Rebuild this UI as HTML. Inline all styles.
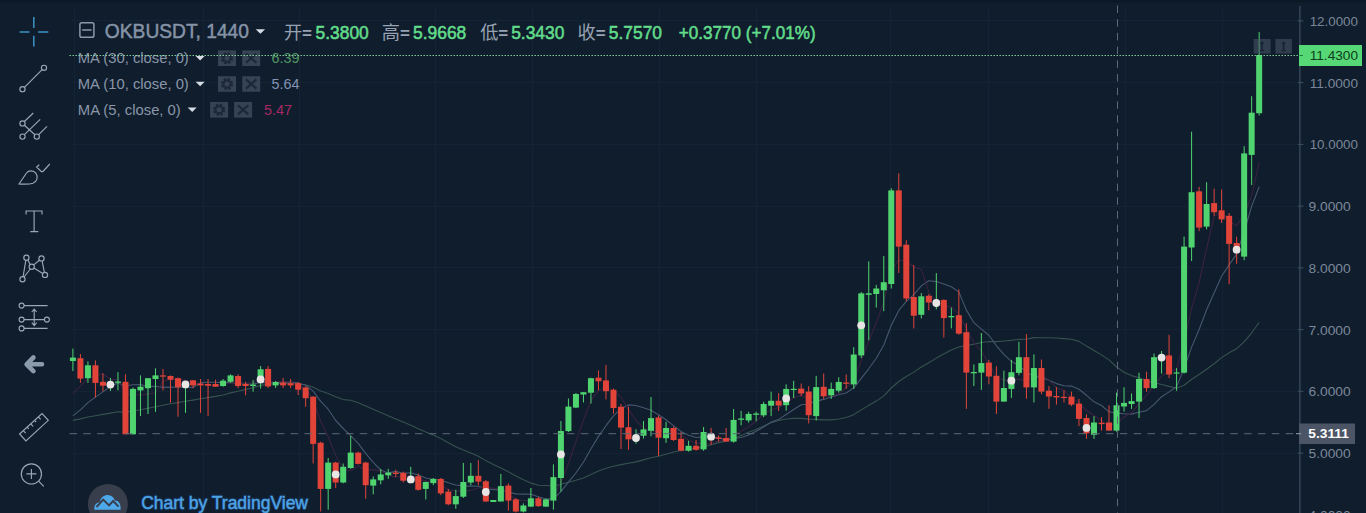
<!DOCTYPE html><html><head><meta charset="utf-8"><title>OKBUSDT</title>
<style>html,body{margin:0;padding:0;background:#0f1d2d}body{width:1366px;height:513px;overflow:hidden;position:relative;font-family:"Liberation Sans",sans-serif}svg{position:absolute;left:0;top:0;display:block}text{font-family:"Liberation Sans",sans-serif}</style></head><body>
<svg width="1366" height="513" viewBox="0 0 1366 513">
<rect x="0" y="0" width="1366" height="513" fill="#0f1d2d"/>
<rect x="0" y="0" width="1366" height="2.5" fill="#0c1825"/>
<g stroke="#152435" stroke-width="1" shape-rendering="crispEdges">
<line x1="74.0" y1="7" x2="74.0" y2="513"/>
<line x1="203.0" y1="7" x2="203.0" y2="513"/>
<line x1="299.0" y1="7" x2="299.0" y2="513"/>
<line x1="435.0" y1="7" x2="435.0" y2="513"/>
<line x1="532.4" y1="7" x2="532.4" y2="513"/>
<line x1="659.8" y1="7" x2="659.8" y2="513"/>
<line x1="756.0" y1="7" x2="756.0" y2="513"/>
<line x1="890.5" y1="7" x2="890.5" y2="513"/>
<line x1="988.0" y1="7" x2="988.0" y2="513"/>
<line x1="1125.6" y1="7" x2="1125.6" y2="513"/>
<line x1="1222.3" y1="7" x2="1222.3" y2="513"/>
<line x1="72" y1="20.9" x2="1300" y2="20.9"/>
<line x1="72" y1="82.6" x2="1300" y2="82.6"/>
<line x1="72" y1="144.4" x2="1300" y2="144.4"/>
<line x1="72" y1="206.1" x2="1300" y2="206.1"/>
<line x1="72" y1="267.9" x2="1300" y2="267.9"/>
<line x1="72" y1="329.6" x2="1300" y2="329.6"/>
<line x1="72" y1="391.4" x2="1300" y2="391.4"/>
<line x1="72" y1="453.1" x2="1300" y2="453.1"/>
</g>
<polyline points="72.9,420.4 80.4,418.9 87.9,417.0 95.4,415.7 102.9,414.4 110.4,413.1 117.9,411.8 125.5,412.1 133.0,411.0 140.5,409.8 148.0,408.3 155.5,406.8 163.0,405.2 170.5,403.8 178.0,402.6 185.5,401.3 193.0,400.1 200.5,398.8 208.0,397.6 215.6,396.4 223.1,395.0 230.6,392.9 238.1,391.2 245.6,389.4 253.1,387.7 260.6,385.4 268.1,384.4 275.6,383.6 283.1,383.1 290.6,383.0 298.1,384.1 305.6,384.7 313.2,387.3 320.7,390.9 328.2,393.4 335.7,396.7 343.2,399.6 350.7,400.2 358.2,402.7 365.7,406.0 373.2,409.3 380.7,412.6 388.2,415.8 395.7,419.0 403.3,422.1 410.8,425.3 418.3,428.7 425.8,432.0 433.3,435.1 440.8,438.6 448.3,442.7 455.8,446.8 463.3,450.0 470.8,453.0 478.3,456.2 485.8,460.6 493.3,464.4 500.9,467.9 508.4,471.7 515.9,475.9 523.4,479.8 530.9,483.1 538.4,485.2 545.9,485.5 553.4,486.0 560.9,484.3 568.4,482.3 575.9,480.3 583.4,477.9 591.0,474.4 598.5,471.1 606.0,468.3 613.5,466.2 621.0,464.6 628.5,463.2 636.0,461.9 643.5,459.9 651.0,457.7 658.5,456.3 666.0,454.2 673.5,452.0 681.0,450.5 688.6,449.3 696.1,448.4 703.6,446.8 711.1,444.7 718.6,442.6 726.1,441.1 733.6,438.5 741.1,435.4 748.6,432.3 756.1,429.5 763.6,426.1 771.1,422.8 778.7,420.4 786.2,419.0 793.7,418.4 801.2,418.4 808.7,419.1 816.2,419.4 823.7,419.9 831.2,419.9 838.7,419.0 846.2,417.5 853.7,414.7 861.2,409.9 868.7,405.4 876.3,401.1 883.8,395.9 891.3,388.0 898.8,381.5 906.3,376.5 913.8,372.1 921.3,367.0 928.8,362.7 936.3,358.1 943.8,354.1 951.3,349.9 958.8,347.1 966.4,345.5 973.9,344.1 981.4,342.5 988.9,341.5 996.4,341.6 1003.9,341.0 1011.4,340.4 1018.9,339.4 1026.4,339.2 1033.9,337.6 1041.4,337.7 1048.9,337.8 1056.4,338.0 1064.0,338.6 1071.5,339.3 1079.0,341.4 1086.5,346.1 1094.0,350.4 1101.5,354.9 1109.0,359.9 1116.5,367.0 1124.0,372.2 1131.5,375.6 1139.0,377.8 1146.5,380.8 1154.1,382.6 1161.6,384.5 1169.1,386.4 1176.6,388.2 1184.1,385.3 1191.6,379.3 1199.1,374.5 1206.6,369.2 1214.1,363.7 1221.6,357.6 1229.1,352.8 1236.6,348.7 1244.1,341.9 1251.7,332.8 1259.2,322.3" fill="none" stroke="#36524f" stroke-width="1.1" stroke-opacity="1" stroke-linejoin="round"/>
<polyline points="72.9,415.9 80.4,409.9 87.9,402.6 95.4,397.1 102.9,391.9 110.4,386.5 117.9,383.1 125.5,385.7 133.0,384.8 140.5,384.5 148.0,386.6 155.5,386.2 163.0,387.4 170.5,387.1 178.0,387.2 185.5,387.1 193.0,387.5 200.5,382.6 208.0,382.3 215.6,382.3 223.1,382.6 230.6,382.6 238.1,383.5 245.6,384.1 253.1,383.9 260.6,382.5 268.1,382.6 275.6,382.3 283.1,382.2 290.6,382.1 298.1,383.0 305.6,385.3 313.2,391.1 320.7,401.4 328.2,409.2 335.7,420.5 343.2,428.5 350.7,435.6 358.2,443.4 365.7,453.4 373.2,462.4 380.7,470.0 388.2,472.9 395.7,471.4 403.3,473.2 410.8,472.8 418.3,475.1 425.8,478.0 433.3,479.5 440.8,480.3 448.3,482.8 455.8,485.0 463.3,485.9 470.8,486.1 478.3,486.2 485.8,488.5 493.3,489.6 500.9,490.0 508.4,492.1 515.9,493.9 523.4,494.1 530.9,494.3 538.4,496.7 545.9,499.1 553.4,498.6 560.9,491.6 568.4,482.2 575.9,473.0 583.4,462.2 591.0,448.8 598.5,436.4 606.0,425.7 613.5,415.9 621.0,408.7 628.5,404.9 636.0,405.5 643.5,407.8 651.0,410.2 658.5,414.7 666.0,419.7 673.5,425.6 681.0,431.5 688.6,435.3 696.1,437.5 703.6,436.8 711.1,436.9 718.6,437.9 726.1,440.2 733.6,438.5 741.1,437.5 748.6,434.9 756.1,431.2 763.6,427.0 771.1,422.1 778.7,419.4 786.2,414.5 793.7,409.5 801.2,404.7 808.7,404.3 816.2,401.1 823.7,399.4 831.2,396.9 838.7,394.7 846.2,393.0 853.7,387.9 861.2,378.3 868.7,368.8 876.3,358.3 883.8,345.0 891.3,325.3 898.8,310.4 906.3,301.3 913.8,294.7 921.3,285.9 928.8,280.7 936.3,281.6 943.8,284.0 951.3,286.8 958.8,291.9 966.4,310.1 973.9,322.7 981.4,329.1 988.9,335.2 996.4,345.8 1003.9,354.3 1011.4,361.4 1018.9,365.3 1026.4,372.4 1033.9,375.9 1041.4,377.8 1048.9,380.2 1056.4,383.6 1064.0,385.8 1071.5,386.1 1079.0,389.2 1086.5,395.3 1094.0,401.8 1101.5,405.5 1109.0,411.8 1116.5,413.1 1124.0,413.8 1131.5,414.1 1139.0,412.2 1146.5,410.6 1154.1,404.4 1161.6,396.7 1169.1,391.9 1176.6,386.8 1184.1,368.4 1191.6,347.1 1199.1,329.5 1206.6,309.8 1214.1,293.1 1221.6,276.3 1229.1,264.9 1236.6,254.1 1244.1,232.0 1251.7,206.0 1259.2,186.8" fill="none" stroke="#46576f" stroke-width="1.1" stroke-opacity="1" stroke-linejoin="round"/>
<polyline points="72.9,393.7 80.4,386.4 87.9,377.9 95.4,374.9 102.9,374.0 110.4,379.2 117.9,379.8 125.5,393.6 133.0,394.8 140.5,395.0 148.0,393.9 155.5,392.7 163.0,381.2 170.5,379.3 178.0,379.4 185.5,380.4 193.0,382.4 200.5,384.1 208.0,385.3 215.6,385.2 223.1,384.8 230.6,382.8 238.1,382.9 245.6,383.0 253.1,382.5 260.6,380.3 268.1,382.5 275.6,381.7 283.1,381.5 290.6,381.7 298.1,385.8 305.6,388.1 313.2,400.5 320.7,421.2 328.2,436.7 335.7,455.2 343.2,468.9 350.7,470.7 358.2,465.7 365.7,470.2 373.2,469.6 380.7,471.1 388.2,475.1 395.7,477.1 403.3,476.2 410.8,475.9 418.3,479.0 425.8,480.9 433.3,481.9 440.8,484.4 448.3,489.7 455.8,490.9 463.3,490.9 470.8,490.3 478.3,488.0 485.8,487.4 493.3,488.2 500.9,489.0 508.4,494.0 515.9,499.9 523.4,500.7 530.9,500.4 538.4,504.4 545.9,504.2 553.4,497.3 560.9,482.4 568.4,464.0 575.9,441.6 583.4,420.2 591.0,400.4 598.5,390.5 606.0,387.4 613.5,390.2 621.0,397.3 628.5,409.5 636.0,420.5 643.5,428.2 651.0,430.2 658.5,432.2 666.0,429.9 673.5,430.6 681.0,434.9 688.6,440.4 696.1,442.9 703.6,443.7 711.1,443.3 718.6,440.9 726.1,440.0 733.6,434.1 741.1,431.4 748.6,426.5 756.1,421.5 763.6,414.0 771.1,410.1 778.7,407.5 786.2,402.5 793.7,397.6 801.2,395.5 808.7,398.4 816.2,394.7 823.7,396.2 831.2,396.2 838.7,393.9 846.2,387.6 853.7,381.1 861.2,360.5 868.7,341.4 876.3,322.7 883.8,302.4 891.3,269.6 898.8,260.2 906.3,261.2 913.8,266.7 921.3,269.5 928.8,291.9 936.3,302.9 943.8,306.8 951.3,306.9 958.8,314.4 966.4,328.4 973.9,342.5 981.4,351.5 988.9,363.6 996.4,377.2 1003.9,380.2 1011.4,380.3 1018.9,379.1 1026.4,381.3 1033.9,374.6 1041.4,375.3 1048.9,380.1 1056.4,388.2 1064.0,390.3 1071.5,397.6 1079.0,403.1 1086.5,410.5 1094.0,415.5 1101.5,420.7 1109.0,425.9 1116.5,423.2 1124.0,417.1 1131.5,412.8 1139.0,403.8 1146.5,395.3 1154.1,385.7 1161.6,376.4 1169.1,371.1 1176.6,369.7 1184.1,341.4 1191.6,308.4 1199.1,282.7 1206.6,248.6 1214.1,216.5 1221.6,211.1 1229.1,221.4 1236.6,225.5 1244.1,215.4 1251.7,195.5 1259.2,162.6" fill="none" stroke="#3a2340" stroke-width="1.1" stroke-opacity="1" stroke-linejoin="round"/>
<rect x="72.40" y="348.6" width="1" height="22.4" fill="#4fd470"/>
<rect x="69.90" y="357.6" width="6.0" height="3.4" fill="#4fd470"/>
<rect x="79.91" y="354.0" width="1" height="28.9" fill="#e2443a"/>
<rect x="77.41" y="358.2" width="6.0" height="20.4" fill="#e2443a"/>
<rect x="87.42" y="361.4" width="1" height="21.5" fill="#4fd470"/>
<rect x="84.92" y="365.3" width="6.0" height="12.9" fill="#4fd470"/>
<rect x="94.92" y="360.4" width="1" height="37.0" fill="#e2443a"/>
<rect x="92.42" y="365.3" width="6.0" height="17.6" fill="#e2443a"/>
<rect x="102.43" y="373.2" width="1" height="18.2" fill="#e2443a"/>
<rect x="99.93" y="381.8" width="6.0" height="3.9" fill="#e2443a"/>
<rect x="109.94" y="378.0" width="1" height="13.0" fill="#4fd470"/>
<rect x="107.44" y="383.5" width="6.0" height="2.0" fill="#4fd470"/>
<rect x="117.45" y="372.2" width="1" height="18.2" fill="#4fd470"/>
<rect x="114.95" y="381.5" width="6.0" height="1.3" fill="#4fd470"/>
<rect x="124.96" y="374.3" width="1" height="60.0" fill="#e2443a"/>
<rect x="122.46" y="381.8" width="6.0" height="52.5" fill="#e2443a"/>
<rect x="132.46" y="387.5" width="1" height="46.8" fill="#4fd470"/>
<rect x="129.96" y="388.9" width="6.0" height="45.4" fill="#4fd470"/>
<rect x="139.97" y="375.4" width="1" height="40.7" fill="#4fd470"/>
<rect x="137.47" y="386.7" width="6.0" height="3.7" fill="#4fd470"/>
<rect x="147.48" y="378.2" width="1" height="35.8" fill="#4fd470"/>
<rect x="144.98" y="378.2" width="6.0" height="10.0" fill="#4fd470"/>
<rect x="154.99" y="368.3" width="1" height="43.5" fill="#4fd470"/>
<rect x="152.49" y="375.4" width="6.0" height="3.6" fill="#4fd470"/>
<rect x="162.50" y="369.0" width="1" height="21.4" fill="#e2443a"/>
<rect x="160.00" y="375.4" width="6.0" height="1.2" fill="#e2443a"/>
<rect x="170.00" y="375.4" width="1" height="27.2" fill="#e2443a"/>
<rect x="167.50" y="376.0" width="6.0" height="3.7" fill="#e2443a"/>
<rect x="177.51" y="377.5" width="1" height="39.2" fill="#e2443a"/>
<rect x="175.01" y="378.2" width="6.0" height="9.0" fill="#e2443a"/>
<rect x="185.02" y="382.9" width="1" height="30.0" fill="#4fd470"/>
<rect x="182.52" y="383.0" width="6.0" height="2.0" fill="#4fd470"/>
<rect x="192.53" y="380.0" width="1" height="8.2" fill="#e2443a"/>
<rect x="190.03" y="380.3" width="6.0" height="5.1" fill="#e2443a"/>
<rect x="200.04" y="379.0" width="1" height="33.9" fill="#e2443a"/>
<rect x="197.54" y="383.5" width="6.0" height="1.9" fill="#e2443a"/>
<rect x="207.54" y="379.0" width="1" height="37.1" fill="#e2443a"/>
<rect x="205.04" y="384.0" width="6.0" height="1.7" fill="#e2443a"/>
<rect x="215.05" y="379.7" width="1" height="7.0" fill="#e2443a"/>
<rect x="212.55" y="384.0" width="6.0" height="2.7" fill="#e2443a"/>
<rect x="222.56" y="379.0" width="1" height="7.7" fill="#4fd470"/>
<rect x="220.06" y="380.7" width="6.0" height="5.3" fill="#4fd470"/>
<rect x="230.07" y="374.3" width="1" height="8.6" fill="#4fd470"/>
<rect x="227.57" y="375.4" width="6.0" height="6.4" fill="#4fd470"/>
<rect x="237.58" y="374.3" width="1" height="13.9" fill="#e2443a"/>
<rect x="235.08" y="376.0" width="6.0" height="10.0" fill="#e2443a"/>
<rect x="245.08" y="381.8" width="1" height="13.5" fill="#e2443a"/>
<rect x="242.58" y="384.0" width="6.0" height="2.0" fill="#e2443a"/>
<rect x="252.59" y="380.0" width="1" height="11.6" fill="#4fd470"/>
<rect x="250.09" y="384.6" width="6.0" height="1.4" fill="#4fd470"/>
<rect x="260.10" y="366.0" width="1" height="22.6" fill="#4fd470"/>
<rect x="257.60" y="369.3" width="6.0" height="10.7" fill="#4fd470"/>
<rect x="267.61" y="366.0" width="1" height="22.0" fill="#e2443a"/>
<rect x="265.11" y="368.9" width="6.0" height="17.5" fill="#e2443a"/>
<rect x="275.12" y="381.0" width="1" height="7.0" fill="#4fd470"/>
<rect x="272.62" y="382.0" width="6.0" height="3.4" fill="#4fd470"/>
<rect x="282.62" y="377.9" width="1" height="10.1" fill="#e2443a"/>
<rect x="280.12" y="382.6" width="6.0" height="2.8" fill="#e2443a"/>
<rect x="290.13" y="379.0" width="1" height="9.0" fill="#e2443a"/>
<rect x="287.63" y="383.2" width="6.0" height="2.2" fill="#e2443a"/>
<rect x="297.64" y="382.0" width="1" height="13.0" fill="#e2443a"/>
<rect x="295.14" y="383.2" width="6.0" height="6.5" fill="#e2443a"/>
<rect x="305.15" y="386.4" width="1" height="20.4" fill="#e2443a"/>
<rect x="302.65" y="387.5" width="6.0" height="10.7" fill="#e2443a"/>
<rect x="312.66" y="396.0" width="1" height="67.5" fill="#e2443a"/>
<rect x="310.16" y="396.7" width="6.0" height="47.2" fill="#e2443a"/>
<rect x="320.16" y="441.7" width="1" height="69.8" fill="#e2443a"/>
<rect x="317.66" y="442.7" width="6.0" height="46.2" fill="#e2443a"/>
<rect x="327.67" y="458.0" width="1" height="51.7" fill="#4fd470"/>
<rect x="325.17" y="462.6" width="6.0" height="26.3" fill="#4fd470"/>
<rect x="335.18" y="461.7" width="1" height="26.3" fill="#e2443a"/>
<rect x="332.68" y="462.6" width="6.0" height="19.9" fill="#e2443a"/>
<rect x="342.69" y="463.5" width="1" height="19.9" fill="#4fd470"/>
<rect x="340.19" y="466.8" width="6.0" height="15.7" fill="#4fd470"/>
<rect x="350.20" y="436.0" width="1" height="32.9" fill="#4fd470"/>
<rect x="347.70" y="452.6" width="6.0" height="15.4" fill="#4fd470"/>
<rect x="357.70" y="451.7" width="1" height="12.7" fill="#e2443a"/>
<rect x="355.20" y="452.6" width="6.0" height="11.3" fill="#e2443a"/>
<rect x="365.21" y="461.7" width="1" height="37.1" fill="#e2443a"/>
<rect x="362.71" y="462.6" width="6.0" height="22.6" fill="#e2443a"/>
<rect x="372.72" y="476.5" width="1" height="17.8" fill="#4fd470"/>
<rect x="370.22" y="479.4" width="6.0" height="6.2" fill="#4fd470"/>
<rect x="380.23" y="468.9" width="1" height="15.4" fill="#4fd470"/>
<rect x="377.73" y="474.4" width="6.0" height="5.9" fill="#4fd470"/>
<rect x="387.74" y="468.9" width="1" height="10.0" fill="#4fd470"/>
<rect x="385.24" y="472.6" width="6.0" height="2.7" fill="#4fd470"/>
<rect x="395.24" y="469.8" width="1" height="7.2" fill="#e2443a"/>
<rect x="392.74" y="472.6" width="6.0" height="1.4" fill="#e2443a"/>
<rect x="402.75" y="471.6" width="1" height="10.9" fill="#e2443a"/>
<rect x="400.25" y="472.9" width="6.0" height="7.8" fill="#e2443a"/>
<rect x="410.26" y="466.8" width="1" height="13.0" fill="#4fd470"/>
<rect x="407.76" y="478.0" width="6.0" height="1.8" fill="#4fd470"/>
<rect x="417.77" y="473.5" width="1" height="17.2" fill="#e2443a"/>
<rect x="415.27" y="476.2" width="6.0" height="13.6" fill="#e2443a"/>
<rect x="425.28" y="481.6" width="1" height="17.8" fill="#4fd470"/>
<rect x="422.78" y="482.0" width="6.0" height="6.9" fill="#4fd470"/>
<rect x="432.78" y="478.0" width="1" height="7.2" fill="#4fd470"/>
<rect x="430.28" y="478.9" width="6.0" height="4.2" fill="#4fd470"/>
<rect x="440.29" y="478.0" width="1" height="17.2" fill="#e2443a"/>
<rect x="437.79" y="478.9" width="6.0" height="14.5" fill="#e2443a"/>
<rect x="447.80" y="488.9" width="1" height="16.3" fill="#e2443a"/>
<rect x="445.30" y="491.6" width="6.0" height="12.7" fill="#e2443a"/>
<rect x="455.31" y="489.8" width="1" height="19.0" fill="#4fd470"/>
<rect x="452.81" y="496.1" width="6.0" height="8.2" fill="#4fd470"/>
<rect x="462.82" y="463.0" width="1" height="35.0" fill="#4fd470"/>
<rect x="460.32" y="482.0" width="6.0" height="14.7" fill="#4fd470"/>
<rect x="470.32" y="463.0" width="1" height="22.2" fill="#4fd470"/>
<rect x="467.82" y="475.8" width="6.0" height="6.7" fill="#4fd470"/>
<rect x="477.83" y="460.2" width="1" height="25.0" fill="#e2443a"/>
<rect x="475.33" y="475.8" width="6.0" height="5.8" fill="#e2443a"/>
<rect x="485.34" y="480.0" width="1" height="22.0" fill="#e2443a"/>
<rect x="482.84" y="481.3" width="6.0" height="20.2" fill="#e2443a"/>
<rect x="492.85" y="500.0" width="1" height="2.0" fill="#4fd470"/>
<rect x="490.35" y="500.0" width="6.0" height="2.0" fill="#4fd470"/>
<rect x="500.36" y="474.0" width="1" height="27.5" fill="#4fd470"/>
<rect x="497.86" y="486.1" width="6.0" height="15.4" fill="#4fd470"/>
<rect x="507.86" y="483.4" width="1" height="27.2" fill="#e2443a"/>
<rect x="505.36" y="485.6" width="6.0" height="15.0" fill="#e2443a"/>
<rect x="515.37" y="498.0" width="1" height="14.4" fill="#e2443a"/>
<rect x="512.87" y="499.4" width="6.0" height="12.1" fill="#e2443a"/>
<rect x="522.88" y="503.4" width="1" height="9.0" fill="#4fd470"/>
<rect x="520.38" y="505.5" width="6.0" height="6.0" fill="#4fd470"/>
<rect x="530.39" y="488.0" width="1" height="19.0" fill="#4fd470"/>
<rect x="527.89" y="498.3" width="6.0" height="8.3" fill="#4fd470"/>
<rect x="537.90" y="497.0" width="1" height="10.0" fill="#e2443a"/>
<rect x="535.40" y="498.3" width="6.0" height="7.8" fill="#e2443a"/>
<rect x="545.40" y="498.5" width="1" height="8.5" fill="#4fd470"/>
<rect x="542.90" y="499.4" width="6.0" height="7.2" fill="#4fd470"/>
<rect x="552.91" y="464.4" width="1" height="45.3" fill="#4fd470"/>
<rect x="550.41" y="477.1" width="6.0" height="23.5" fill="#4fd470"/>
<rect x="560.42" y="421.0" width="1" height="70.6" fill="#4fd470"/>
<rect x="557.92" y="431.0" width="6.0" height="47.0" fill="#4fd470"/>
<rect x="567.93" y="398.5" width="1" height="33.5" fill="#4fd470"/>
<rect x="565.43" y="406.6" width="6.0" height="24.5" fill="#4fd470"/>
<rect x="575.44" y="393.0" width="1" height="15.0" fill="#4fd470"/>
<rect x="572.94" y="394.0" width="6.0" height="13.6" fill="#4fd470"/>
<rect x="582.94" y="392.2" width="1" height="10.3" fill="#4fd470"/>
<rect x="580.44" y="392.2" width="6.0" height="2.3" fill="#4fd470"/>
<rect x="590.45" y="377.7" width="1" height="25.9" fill="#4fd470"/>
<rect x="587.95" y="378.2" width="6.0" height="14.5" fill="#4fd470"/>
<rect x="597.96" y="370.4" width="1" height="19.9" fill="#e2443a"/>
<rect x="595.46" y="377.7" width="6.0" height="3.6" fill="#e2443a"/>
<rect x="605.47" y="365.0" width="1" height="34.4" fill="#e2443a"/>
<rect x="602.97" y="380.4" width="6.0" height="10.8" fill="#e2443a"/>
<rect x="612.98" y="388.5" width="1" height="25.3" fill="#e2443a"/>
<rect x="610.48" y="389.8" width="6.0" height="18.2" fill="#e2443a"/>
<rect x="620.48" y="404.0" width="1" height="45.0" fill="#e2443a"/>
<rect x="617.98" y="406.7" width="6.0" height="20.9" fill="#e2443a"/>
<rect x="627.99" y="406.7" width="1" height="43.1" fill="#e2443a"/>
<rect x="625.49" y="427.2" width="6.0" height="12.1" fill="#e2443a"/>
<rect x="635.50" y="429.3" width="1" height="14.5" fill="#4fd470"/>
<rect x="633.00" y="436.5" width="6.0" height="2.0" fill="#4fd470"/>
<rect x="643.01" y="421.0" width="1" height="17.5" fill="#4fd470"/>
<rect x="640.51" y="429.4" width="6.0" height="6.3" fill="#4fd470"/>
<rect x="650.52" y="397.0" width="1" height="39.3" fill="#4fd470"/>
<rect x="648.02" y="418.1" width="6.0" height="12.7" fill="#4fd470"/>
<rect x="658.02" y="415.5" width="1" height="40.6" fill="#e2443a"/>
<rect x="655.52" y="417.5" width="6.0" height="20.2" fill="#e2443a"/>
<rect x="665.53" y="421.8" width="1" height="21.1" fill="#4fd470"/>
<rect x="663.03" y="428.0" width="6.0" height="10.2" fill="#4fd470"/>
<rect x="673.04" y="426.5" width="1" height="14.5" fill="#e2443a"/>
<rect x="670.54" y="428.0" width="6.0" height="12.0" fill="#e2443a"/>
<rect x="680.55" y="432.0" width="1" height="19.3" fill="#e2443a"/>
<rect x="678.05" y="438.8" width="6.0" height="11.9" fill="#e2443a"/>
<rect x="688.06" y="440.8" width="1" height="10.8" fill="#4fd470"/>
<rect x="685.56" y="445.8" width="6.0" height="4.9" fill="#4fd470"/>
<rect x="695.56" y="440.0" width="1" height="10.7" fill="#e2443a"/>
<rect x="693.06" y="445.8" width="6.0" height="4.0" fill="#e2443a"/>
<rect x="703.07" y="427.0" width="1" height="23.7" fill="#4fd470"/>
<rect x="700.57" y="432.0" width="6.0" height="17.4" fill="#4fd470"/>
<rect x="710.58" y="427.8" width="1" height="17.2" fill="#e2443a"/>
<rect x="708.08" y="436.0" width="6.0" height="2.0" fill="#e2443a"/>
<rect x="718.09" y="435.3" width="1" height="6.3" fill="#e2443a"/>
<rect x="715.59" y="437.5" width="6.0" height="1.3" fill="#e2443a"/>
<rect x="725.60" y="428.0" width="1" height="13.6" fill="#e2443a"/>
<rect x="723.10" y="438.0" width="6.0" height="3.6" fill="#e2443a"/>
<rect x="733.10" y="409.0" width="1" height="33.6" fill="#4fd470"/>
<rect x="730.60" y="419.9" width="6.0" height="21.7" fill="#4fd470"/>
<rect x="740.61" y="410.8" width="1" height="14.5" fill="#4fd470"/>
<rect x="738.11" y="418.5" width="6.0" height="1.3" fill="#4fd470"/>
<rect x="748.12" y="411.7" width="1" height="10.9" fill="#4fd470"/>
<rect x="745.62" y="413.9" width="6.0" height="6.5" fill="#4fd470"/>
<rect x="755.63" y="411.7" width="1" height="9.5" fill="#4fd470"/>
<rect x="753.13" y="413.5" width="6.0" height="1.3" fill="#4fd470"/>
<rect x="763.14" y="401.8" width="1" height="15.4" fill="#4fd470"/>
<rect x="760.64" y="404.0" width="6.0" height="11.3" fill="#4fd470"/>
<rect x="770.64" y="391.7" width="1" height="24.5" fill="#4fd470"/>
<rect x="768.14" y="400.8" width="6.0" height="4.9" fill="#4fd470"/>
<rect x="778.15" y="393.0" width="1" height="18.0" fill="#e2443a"/>
<rect x="775.65" y="400.8" width="6.0" height="4.7" fill="#e2443a"/>
<rect x="785.66" y="384.4" width="1" height="26.3" fill="#4fd470"/>
<rect x="783.16" y="388.9" width="6.0" height="16.3" fill="#4fd470"/>
<rect x="793.17" y="380.8" width="1" height="17.2" fill="#4fd470"/>
<rect x="790.67" y="388.8" width="6.0" height="1.2" fill="#4fd470"/>
<rect x="800.68" y="383.5" width="1" height="12.7" fill="#e2443a"/>
<rect x="798.18" y="388.6" width="6.0" height="4.9" fill="#e2443a"/>
<rect x="808.18" y="386.2" width="1" height="37.2" fill="#e2443a"/>
<rect x="805.68" y="391.6" width="6.0" height="23.6" fill="#e2443a"/>
<rect x="815.69" y="375.9" width="1" height="44.7" fill="#4fd470"/>
<rect x="813.19" y="387.1" width="6.0" height="29.0" fill="#4fd470"/>
<rect x="823.20" y="373.5" width="1" height="25.4" fill="#e2443a"/>
<rect x="820.70" y="386.8" width="6.0" height="9.4" fill="#e2443a"/>
<rect x="830.71" y="382.6" width="1" height="16.3" fill="#4fd470"/>
<rect x="828.21" y="388.9" width="6.0" height="6.4" fill="#4fd470"/>
<rect x="838.22" y="377.2" width="1" height="15.4" fill="#4fd470"/>
<rect x="835.72" y="382.0" width="6.0" height="8.7" fill="#4fd470"/>
<rect x="845.72" y="374.4" width="1" height="14.5" fill="#e2443a"/>
<rect x="843.22" y="382.5" width="6.0" height="1.3" fill="#e2443a"/>
<rect x="853.23" y="347.2" width="1" height="41.7" fill="#4fd470"/>
<rect x="850.73" y="354.5" width="6.0" height="29.9" fill="#4fd470"/>
<rect x="860.74" y="292.0" width="1" height="66.1" fill="#4fd470"/>
<rect x="858.24" y="293.4" width="6.0" height="62.0" fill="#4fd470"/>
<rect x="868.25" y="261.3" width="1" height="78.9" fill="#4fd470"/>
<rect x="865.75" y="293.3" width="6.0" height="1.5" fill="#4fd470"/>
<rect x="875.76" y="284.9" width="1" height="22.7" fill="#4fd470"/>
<rect x="873.26" y="288.5" width="6.0" height="5.5" fill="#4fd470"/>
<rect x="883.26" y="256.0" width="1" height="55.2" fill="#4fd470"/>
<rect x="880.76" y="282.2" width="6.0" height="8.1" fill="#4fd470"/>
<rect x="890.77" y="188.2" width="1" height="100.3" fill="#4fd470"/>
<rect x="888.27" y="190.4" width="6.0" height="93.6" fill="#4fd470"/>
<rect x="898.28" y="173.2" width="1" height="99.8" fill="#e2443a"/>
<rect x="895.78" y="190.4" width="6.0" height="56.2" fill="#e2443a"/>
<rect x="905.79" y="240.2" width="1" height="61.0" fill="#e2443a"/>
<rect x="903.29" y="244.7" width="6.0" height="53.8" fill="#e2443a"/>
<rect x="913.30" y="265.0" width="1" height="63.4" fill="#e2443a"/>
<rect x="910.80" y="297.0" width="6.0" height="18.7" fill="#e2443a"/>
<rect x="920.80" y="293.0" width="1" height="25.4" fill="#4fd470"/>
<rect x="918.30" y="296.3" width="6.0" height="18.5" fill="#4fd470"/>
<rect x="928.31" y="294.0" width="1" height="16.3" fill="#e2443a"/>
<rect x="925.81" y="295.8" width="6.0" height="6.7" fill="#e2443a"/>
<rect x="935.82" y="273.1" width="1" height="36.3" fill="#4fd470"/>
<rect x="933.32" y="301.5" width="6.0" height="2.0" fill="#4fd470"/>
<rect x="943.33" y="299.4" width="1" height="38.1" fill="#e2443a"/>
<rect x="940.83" y="299.9" width="6.0" height="18.2" fill="#e2443a"/>
<rect x="950.84" y="307.6" width="1" height="20.8" fill="#4fd470"/>
<rect x="948.34" y="316.0" width="6.0" height="1.3" fill="#4fd470"/>
<rect x="958.34" y="289.4" width="1" height="45.3" fill="#e2443a"/>
<rect x="955.84" y="315.2" width="6.0" height="18.5" fill="#e2443a"/>
<rect x="965.85" y="323.3" width="1" height="85.5" fill="#e2443a"/>
<rect x="963.35" y="332.2" width="6.0" height="40.4" fill="#e2443a"/>
<rect x="973.36" y="364.4" width="1" height="21.7" fill="#4fd470"/>
<rect x="970.86" y="372.0" width="6.0" height="1.3" fill="#4fd470"/>
<rect x="980.87" y="333.0" width="1" height="56.8" fill="#4fd470"/>
<rect x="978.37" y="363.1" width="6.0" height="9.5" fill="#4fd470"/>
<rect x="988.38" y="359.9" width="1" height="24.4" fill="#e2443a"/>
<rect x="985.88" y="362.6" width="6.0" height="13.9" fill="#e2443a"/>
<rect x="995.88" y="366.2" width="1" height="47.8" fill="#e2443a"/>
<rect x="993.38" y="375.8" width="6.0" height="25.8" fill="#e2443a"/>
<rect x="1003.39" y="370.7" width="1" height="30.9" fill="#4fd470"/>
<rect x="1000.89" y="388.0" width="6.0" height="13.6" fill="#4fd470"/>
<rect x="1010.90" y="359.9" width="1" height="38.0" fill="#4fd470"/>
<rect x="1008.40" y="372.2" width="6.0" height="16.7" fill="#4fd470"/>
<rect x="1018.41" y="341.7" width="1" height="33.6" fill="#4fd470"/>
<rect x="1015.91" y="357.2" width="6.0" height="15.7" fill="#4fd470"/>
<rect x="1025.92" y="334.1" width="1" height="64.7" fill="#e2443a"/>
<rect x="1023.42" y="357.2" width="6.0" height="30.2" fill="#e2443a"/>
<rect x="1033.42" y="354.4" width="1" height="48.1" fill="#4fd470"/>
<rect x="1030.92" y="368.0" width="6.0" height="19.4" fill="#4fd470"/>
<rect x="1040.93" y="359.5" width="1" height="34.8" fill="#e2443a"/>
<rect x="1038.43" y="368.0" width="6.0" height="23.6" fill="#e2443a"/>
<rect x="1048.44" y="386.1" width="1" height="22.7" fill="#e2443a"/>
<rect x="1045.94" y="390.7" width="6.0" height="5.8" fill="#e2443a"/>
<rect x="1055.95" y="387.0" width="1" height="17.6" fill="#e2443a"/>
<rect x="1053.45" y="396.0" width="6.0" height="1.4" fill="#e2443a"/>
<rect x="1063.46" y="390.3" width="1" height="12.2" fill="#e2443a"/>
<rect x="1060.96" y="396.8" width="6.0" height="1.2" fill="#e2443a"/>
<rect x="1070.96" y="391.6" width="1" height="14.5" fill="#e2443a"/>
<rect x="1068.46" y="396.6" width="6.0" height="8.0" fill="#e2443a"/>
<rect x="1078.47" y="399.0" width="1" height="27.1" fill="#e2443a"/>
<rect x="1075.97" y="403.6" width="6.0" height="15.3" fill="#e2443a"/>
<rect x="1085.98" y="414.3" width="1" height="24.5" fill="#e2443a"/>
<rect x="1083.48" y="418.0" width="6.0" height="15.4" fill="#e2443a"/>
<rect x="1093.49" y="416.1" width="1" height="22.7" fill="#4fd470"/>
<rect x="1090.99" y="422.5" width="6.0" height="12.3" fill="#4fd470"/>
<rect x="1101.00" y="417.1" width="1" height="13.5" fill="#e2443a"/>
<rect x="1098.50" y="422.8" width="6.0" height="1.3" fill="#e2443a"/>
<rect x="1108.50" y="405.3" width="1" height="25.3" fill="#e2443a"/>
<rect x="1106.00" y="422.5" width="6.0" height="8.1" fill="#e2443a"/>
<rect x="1116.01" y="392.6" width="1" height="39.0" fill="#4fd470"/>
<rect x="1113.51" y="405.3" width="6.0" height="25.3" fill="#4fd470"/>
<rect x="1123.52" y="387.2" width="1" height="24.4" fill="#4fd470"/>
<rect x="1121.02" y="402.9" width="6.0" height="3.6" fill="#4fd470"/>
<rect x="1131.03" y="393.5" width="1" height="15.4" fill="#4fd470"/>
<rect x="1128.53" y="401.1" width="6.0" height="2.9" fill="#4fd470"/>
<rect x="1138.54" y="372.7" width="1" height="45.3" fill="#4fd470"/>
<rect x="1136.04" y="379.0" width="6.0" height="22.6" fill="#4fd470"/>
<rect x="1146.04" y="371.7" width="1" height="20.0" fill="#e2443a"/>
<rect x="1143.54" y="379.0" width="6.0" height="9.1" fill="#e2443a"/>
<rect x="1153.55" y="353.6" width="1" height="35.4" fill="#4fd470"/>
<rect x="1151.05" y="357.2" width="6.0" height="30.9" fill="#4fd470"/>
<rect x="1161.06" y="351.0" width="1" height="22.6" fill="#4fd470"/>
<rect x="1158.56" y="356.5" width="6.0" height="2.0" fill="#4fd470"/>
<rect x="1168.57" y="334.8" width="1" height="43.3" fill="#e2443a"/>
<rect x="1166.07" y="355.4" width="6.0" height="19.1" fill="#e2443a"/>
<rect x="1176.08" y="368.1" width="1" height="22.7" fill="#4fd470"/>
<rect x="1173.58" y="372.4" width="6.0" height="1.2" fill="#4fd470"/>
<rect x="1183.58" y="236.6" width="1" height="137.0" fill="#4fd470"/>
<rect x="1181.08" y="246.6" width="6.0" height="126.1" fill="#4fd470"/>
<rect x="1191.09" y="131.7" width="1" height="129.3" fill="#4fd470"/>
<rect x="1188.59" y="192.2" width="6.0" height="55.3" fill="#4fd470"/>
<rect x="1198.60" y="186.8" width="1" height="44.4" fill="#e2443a"/>
<rect x="1196.10" y="191.3" width="6.0" height="36.3" fill="#e2443a"/>
<rect x="1206.11" y="182.2" width="1" height="47.2" fill="#4fd470"/>
<rect x="1203.61" y="204.0" width="6.0" height="22.6" fill="#4fd470"/>
<rect x="1213.62" y="188.6" width="1" height="27.2" fill="#e2443a"/>
<rect x="1211.12" y="203.1" width="6.0" height="9.1" fill="#e2443a"/>
<rect x="1221.12" y="189.5" width="1" height="33.5" fill="#e2443a"/>
<rect x="1218.62" y="210.3" width="6.0" height="9.1" fill="#e2443a"/>
<rect x="1228.63" y="213.0" width="1" height="71.3" fill="#e2443a"/>
<rect x="1226.13" y="215.8" width="6.0" height="28.1" fill="#e2443a"/>
<rect x="1236.14" y="236.6" width="1" height="27.2" fill="#e2443a"/>
<rect x="1233.64" y="243.0" width="6.0" height="5.0" fill="#e2443a"/>
<rect x="1243.65" y="146.2" width="1" height="114.0" fill="#4fd470"/>
<rect x="1241.15" y="153.4" width="6.0" height="103.2" fill="#4fd470"/>
<rect x="1251.16" y="96.2" width="1" height="88.8" fill="#4fd470"/>
<rect x="1248.66" y="112.7" width="6.0" height="42.2" fill="#4fd470"/>
<rect x="1258.66" y="32.1" width="1" height="83.4" fill="#4fd470"/>
<rect x="1256.16" y="55.1" width="6.0" height="58.1" fill="#4fd470"/>
<circle cx="110.4" cy="384.6" r="3.9" fill="#e8e5e5"/>
<circle cx="185.5" cy="384.4" r="3.9" fill="#e8e5e5"/>
<circle cx="260.6" cy="379.4" r="3.9" fill="#e8e5e5"/>
<circle cx="335.7" cy="474.4" r="3.9" fill="#e8e5e5"/>
<circle cx="410.8" cy="479.4" r="3.9" fill="#e8e5e5"/>
<circle cx="485.8" cy="492.0" r="3.9" fill="#e8e5e5"/>
<circle cx="560.9" cy="454.4" r="3.9" fill="#e8e5e5"/>
<circle cx="636.0" cy="438.0" r="3.9" fill="#e8e5e5"/>
<circle cx="711.1" cy="436.7" r="3.9" fill="#e8e5e5"/>
<circle cx="786.2" cy="398.4" r="3.9" fill="#e8e5e5"/>
<circle cx="861.2" cy="325.3" r="3.9" fill="#e8e5e5"/>
<circle cx="936.3" cy="303.0" r="3.9" fill="#e8e5e5"/>
<circle cx="1011.4" cy="380.7" r="3.9" fill="#e8e5e5"/>
<circle cx="1086.5" cy="427.9" r="3.9" fill="#e8e5e5"/>
<circle cx="1161.6" cy="357.6" r="3.9" fill="#e8e5e5"/>
<circle cx="1236.6" cy="249.7" r="3.9" fill="#e8e5e5"/>
<line x1="1117.5" y1="5.5" x2="1117.5" y2="513" stroke="#5c6979" stroke-width="1" stroke-dasharray="7.5 6.2"/>
<line x1="69.5" y1="433.7" x2="1300" y2="433.7" stroke="#5c6979" stroke-width="1" stroke-dasharray="7.5 6.32"/>
<rect x="1299.4" y="6" width="1" height="507" fill="#48586c"/>
<g fill="#7b8798" font-size="13.4">
<rect x="1298" y="20.4" width="5.5" height="1" fill="#3f4f63"/>
<text x="1309.7" y="25.8" textLength="48.3" lengthAdjust="spacingAndGlyphs">12.0000</text>
<rect x="1298" y="82.1" width="5.5" height="1" fill="#3f4f63"/>
<text x="1309.7" y="87.5" textLength="48.3" lengthAdjust="spacingAndGlyphs">11.0000</text>
<rect x="1298" y="143.9" width="5.5" height="1" fill="#3f4f63"/>
<text x="1309.7" y="149.3" textLength="48.3" lengthAdjust="spacingAndGlyphs">10.0000</text>
<rect x="1298" y="205.6" width="5.5" height="1" fill="#3f4f63"/>
<text x="1308.5" y="211.0" textLength="42.2" lengthAdjust="spacingAndGlyphs">9.0000</text>
<rect x="1298" y="267.4" width="5.5" height="1" fill="#3f4f63"/>
<text x="1308.5" y="272.8" textLength="42.2" lengthAdjust="spacingAndGlyphs">8.0000</text>
<rect x="1298" y="329.1" width="5.5" height="1" fill="#3f4f63"/>
<text x="1308.5" y="334.5" textLength="42.2" lengthAdjust="spacingAndGlyphs">7.0000</text>
<rect x="1298" y="390.8" width="5.5" height="1" fill="#3f4f63"/>
<text x="1308.5" y="396.2" textLength="42.2" lengthAdjust="spacingAndGlyphs">6.0000</text>
<rect x="1298" y="452.6" width="5.5" height="1" fill="#3f4f63"/>
<text x="1308.5" y="458.0" textLength="42.2" lengthAdjust="spacingAndGlyphs">5.0000</text>
<rect x="1298" y="514.3" width="5.5" height="1" fill="#3f4f63"/>
<text x="1308.5" y="519.7" textLength="42.2" lengthAdjust="spacingAndGlyphs">4.0000</text>
</g>
<rect x="1299" y="45" width="63" height="21" fill="#57d877"/>
<rect x="1299.5" y="55" width="3.5" height="1" fill="#1f7a3c"/>
<text x="1309.7" y="60.4" font-size="13.4" fill="#0d3d1c" textLength="48.3" lengthAdjust="spacingAndGlyphs">11.4300</text>
<rect x="1299" y="423.5" width="56" height="20.5" fill="#4c5565"/>
<rect x="1296" y="433.2" width="5" height="1" fill="#9aa3b0"/>
<text x="1308.3" y="437.8" font-size="13.4" font-weight="bold" fill="#ffffff" textLength="40.5" lengthAdjust="spacingAndGlyphs">5.3111</text>
<rect x="1253.6" y="39" width="17" height="14.5" fill="#4c586a8c"/>
<rect x="1275.4" y="39" width="16.5" height="14.5" fill="#4c586a8c"/>
<path d="M1262 42.5v8M1260.5 44l1.5-1.7 1.5 1.7M1260 50.5h4" stroke="#1a2533" stroke-width="1.6" fill="none"/>
<path d="M1283.6 42.5v8M1282 44l1.6-1.7 1.6 1.7M1281.6 50.5h4" stroke="#1a2533" stroke-width="1.6" fill="none"/>
<rect x="79.9" y="22.8" width="14" height="14.4" rx="1.8" fill="none" stroke="#8d99aa" stroke-width="1.5"/>
<line x1="82.2" y1="30" x2="91.6" y2="30" stroke="#8d99aa" stroke-width="1.5"/>
<text x="104.8" y="38.2" font-size="20.3" fill="#8593a6" stroke="#8593a6" stroke-width="0.5" textLength="144.2" lengthAdjust="spacingAndGlyphs">OKBUSDT, 1440</text>
<path d="M255.7 29.2h9.4l-4.7 4.6z" fill="#d5dbe3"/>
<text x="284.0" y="39.3" font-size="18.2" fill="#97a2b2" style="font-family:'Liberation Sans','Noto Sans CJK SC',sans-serif">开</text>
<text x="302.1" y="38.7" font-size="17" font-weight="bold" fill="#97a2b2">=</text>
<text x="315.6" y="38.7" font-size="17.8" fill="#62dc8a" stroke="#62dc8a" stroke-width="0.55" textLength="53.2" lengthAdjust="spacingAndGlyphs">5.3800</text>
<text x="381.8" y="39.3" font-size="18.2" fill="#97a2b2" style="font-family:'Liberation Sans','Noto Sans CJK SC',sans-serif">高</text>
<text x="400.1" y="38.7" font-size="17" font-weight="bold" fill="#97a2b2">=</text>
<text x="413.1" y="38.7" font-size="17.8" fill="#62dc8a" stroke="#62dc8a" stroke-width="0.55" textLength="53.2" lengthAdjust="spacingAndGlyphs">5.9668</text>
<text x="480.2" y="39.3" font-size="18.2" fill="#97a2b2" style="font-family:'Liberation Sans','Noto Sans CJK SC',sans-serif">低</text>
<text x="498.3" y="38.7" font-size="17" font-weight="bold" fill="#97a2b2">=</text>
<text x="511.2" y="38.7" font-size="17.8" fill="#62dc8a" stroke="#62dc8a" stroke-width="0.55" textLength="53.2" lengthAdjust="spacingAndGlyphs">5.3430</text>
<text x="577.5" y="39.3" font-size="18.2" fill="#97a2b2" style="font-family:'Liberation Sans','Noto Sans CJK SC',sans-serif">收</text>
<text x="595.7" y="38.7" font-size="17" font-weight="bold" fill="#97a2b2">=</text>
<text x="608.8" y="38.7" font-size="17.8" fill="#62dc8a" stroke="#62dc8a" stroke-width="0.55" textLength="53.2" lengthAdjust="spacingAndGlyphs">5.7570</text>
<text x="678.8" y="38.7" font-size="17.8" fill="#62dc8a" stroke="#62dc8a" stroke-width="0.55" textLength="136.8" lengthAdjust="spacingAndGlyphs">+0.3770 (+7.01%)</text>
<text x="77.8" y="63.1" font-size="15.3" fill="#8a96a8" textLength="111.0" lengthAdjust="spacingAndGlyphs">MA (30, close, 0)</text>
<path d="M195.6 56.0h9l-4.5 4.5z" fill="#d5dbe3"/>
<rect x="218.0" y="50.4" width="18" height="15.6" fill="#364354"/>
<rect x="242.2" y="50.4" width="18" height="15.6" fill="#364354"/>
<circle cx="227.0" cy="58.2" r="4.7" fill="none" stroke="#1c2838" stroke-width="2.8" stroke-dasharray="2.3 1.39"/>
<circle cx="227.0" cy="58.2" r="3.5" fill="none" stroke="#1c2838" stroke-width="2"/>
<path d="M246.0 53.6l10.4 9.2M256.4 53.6l-10.4 9.2" stroke="#1c2838" stroke-width="2.2" fill="none"/>
<text x="271.5" y="63.1" font-size="15.3" fill="#4f9563" textLength="28" lengthAdjust="spacingAndGlyphs">6.39</text>
<text x="77.8" y="88.9" font-size="15.3" fill="#8a96a8" textLength="111.0" lengthAdjust="spacingAndGlyphs">MA (10, close, 0)</text>
<path d="M195.6 81.8h9l-4.5 4.5z" fill="#d5dbe3"/>
<rect x="218.0" y="76.2" width="18" height="15.6" fill="#364354"/>
<rect x="242.2" y="76.2" width="18" height="15.6" fill="#364354"/>
<circle cx="227.0" cy="84.0" r="4.7" fill="none" stroke="#1c2838" stroke-width="2.8" stroke-dasharray="2.3 1.39"/>
<circle cx="227.0" cy="84.0" r="3.5" fill="none" stroke="#1c2838" stroke-width="2"/>
<path d="M246.0 79.4l10.4 9.2M256.4 79.4l-10.4 9.2" stroke="#1c2838" stroke-width="2.2" fill="none"/>
<text x="271.5" y="88.9" font-size="15.3" fill="#8293b4" textLength="28" lengthAdjust="spacingAndGlyphs">5.64</text>
<text x="77.8" y="114.7" font-size="15.3" fill="#8a96a8" textLength="103.0" lengthAdjust="spacingAndGlyphs">MA (5, close, 0)</text>
<path d="M187.7 107.6h9l-4.5 4.5z" fill="#d5dbe3"/>
<rect x="210.1" y="102.0" width="18" height="15.6" fill="#364354"/>
<rect x="234.1" y="102.0" width="18" height="15.6" fill="#364354"/>
<circle cx="219.1" cy="109.8" r="4.7" fill="none" stroke="#1c2838" stroke-width="2.8" stroke-dasharray="2.3 1.39"/>
<circle cx="219.1" cy="109.8" r="3.5" fill="none" stroke="#1c2838" stroke-width="2"/>
<path d="M237.9 105.2l10.4 9.2M248.3 105.2l-10.4 9.2" stroke="#1c2838" stroke-width="2.2" fill="none"/>
<text x="264.0" y="114.7" font-size="15.3" fill="#a52a63" textLength="28" lengthAdjust="spacingAndGlyphs">5.47</text>
<g fill="none" stroke="#3d93c4" stroke-width="1.5"><path d="M33.8 17.1v11M33.8 35.8v10.6M19.6 31.9h9.9M38.1 31.9h10.2"/></g>
<g fill="none" stroke="#9ba7b6" stroke-width="1.15">
<circle cx="44" cy="67.8" r="2.6"/><circle cx="22.5" cy="89.2" r="2.6"/><path d="M42.1 69.7L24.4 87.3"/>
<circle cx="22.5" cy="123.4" r="2.6"/><circle cx="22.5" cy="136.6" r="2.6"/><circle cx="36.8" cy="136.6" r="2.6"/>
<path d="M24.4 121.5L33.3 113M24.4 134.7L40.2 119.3M38.7 134.7L47 126.3M24.4 125.3L34.9 134.8"/>
<path d="M19 184L26.5 173C28.5 170.3 33.6 170 36 173.4C38.5 177 37 181.6 33 183.3C29 184.6 24 184.2 19 184Z"/><path d="M39.3 164.8L36.6 167L41 171.2Q42.2 172.2 43.4 171L49.8 164"/>
<path d="M26.1 214.4V211H42V214.4M34.1 211V231.6M30.3 231.6H38.3"/>
<circle cx="26.4" cy="257.8" r="2.6"/><circle cx="41.5" cy="258.4" r="2.6"/><circle cx="31.7" cy="266.7" r="2.6"/><circle cx="45" cy="274.9" r="2.6"/><circle cx="22.5" cy="279.2" r="2.6"/>
<path d="M25.8 260.4L23.1 276.6M28 259.9L30 264.6M33.7 264.9L39.4 260.2M42.1 261L44.4 272.3M34 268L42.7 273.5M30.3 269L24 277"/>
<circle cx="21.6" cy="305.6" r="2.5"/><circle cx="21.6" cy="319.6" r="2.5"/><circle cx="21.6" cy="328.4" r="2.5"/><circle cx="46.9" cy="319.6" r="2.5"/>
<path d="M24.1 305.6H47.6M24.1 319.6H44.4M24.1 328.4H47.6M34.2 309.5V325.2M31.8 312L34.2 309.2L36.6 312M31.8 322.7L34.2 325.6L36.6 322.7"/>
<path d="M19.6 434L42 413.5L48.3 420.3L25.9 440.9Z"/><path d="M23.3 430.6l2.3 2.5M27.1 427.2l1.6 1.7M30.8 423.8l2.3 2.5M34.5 420.3l1.6 1.7M38.3 416.9l2.3 2.5"/>
<circle cx="31.4" cy="473.9" r="10.1"/><path d="M26.4 473.9h10M31.4 468.9v10M38.6 481.2L43.8 486.4"/>
</g>
<path d="M42 364.3H28M33.4 357.5L26.6 364.3L33.4 371.1" fill="none" stroke="#8c9bac" stroke-width="4.6" stroke-linecap="round" stroke-linejoin="round"/>
<circle cx="107.9" cy="504" r="20" fill="#393e4d"/>
<path d="M94.4 509.8C93.8 505 96.5 502.3 99.8 502.2C100.6 497.2 105 494.6 108.8 495.2C112 495.6 114 497.8 114.8 500.4C118.6 500.2 121.2 503.6 120.6 509.8Z" fill="#4ea9ea"/>
<path d="M96.5 507L103.2 499.6L109 505.4L113.2 501L118.6 506.6" fill="none" stroke="#393e4d" stroke-width="2"/>
<text x="141.2" y="508.8" font-size="18" fill="#142a44" stroke="#142a44" stroke-width="2.8" stroke-linejoin="round" textLength="166.8" lengthAdjust="spacingAndGlyphs">Chart by TradingView</text>
<text x="141.2" y="508.8" font-size="18" fill="#4da3e6" stroke="#4da3e6" stroke-width="0.5" textLength="166.8" lengthAdjust="spacingAndGlyphs">Chart by TradingView</text>
<line x1="69.55" y1="55.5" x2="1298" y2="55.5" stroke="#93e6a8" stroke-width="1" stroke-dasharray="1.3 1.7"/>
</svg></body></html>
